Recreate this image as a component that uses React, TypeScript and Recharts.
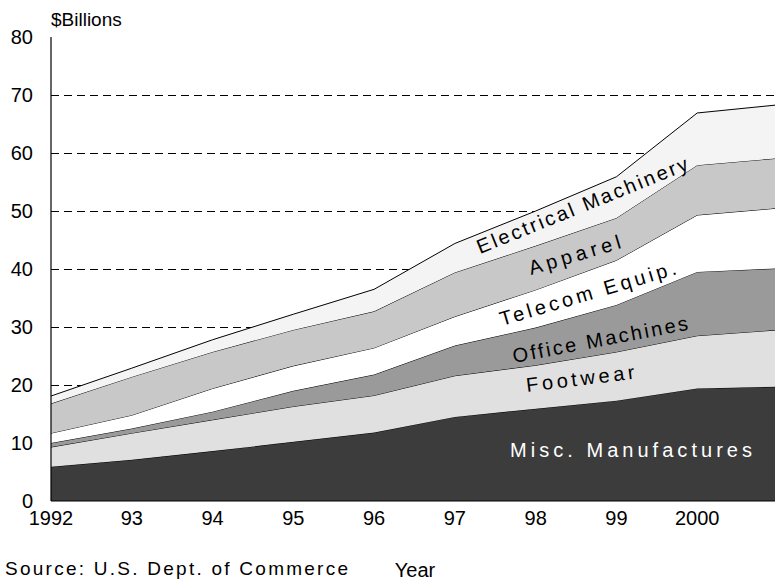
import { AreaChart, Area, XAxis, YAxis, CartesianGrid } from 'recharts'

// Values in $ billions (last point is the right edge of the plot)
const years = [1992, 1993, 1994, 1995, 1996, 1997, 1998, 1999, 2000, 2001]
const misc = [5.9, 7.1, 8.6, 10.2, 11.8, 14.5, 15.9, 17.3, 19.4, 19.7]
const footwear = [3.4, 4.6, 5.4, 6.1, 6.4, 7.1, 7.5, 8.4, 9.1, 9.8]
const office = [0.7, 0.8, 1.4, 2.7, 3.6, 5.2, 6.5, 8.1, 11.0, 10.6]
const telecom = [1.7, 2.3, 4.0, 4.3, 4.6, 5.0, 6.5, 7.7, 9.8, 10.4]
const apparel = [5.1, 6.6, 6.3, 6.2, 6.3, 7.6, 7.6, 7.3, 8.6, 8.6]
const electrical = [1.3, 1.5, 2.1, 2.7, 3.8, 5.0, 6.0, 7.1, 9.0, 9.2]

const xTicks = [1992, 1993, 1994, 1995, 1996, 1997, 1998, 1999, 2000]
const yTicks = [0, 10, 20, 30, 40, 50, 60, 70, 80]
const gridValues = [10, 20, 30, 40, 50, 60, 70]

const data = years.map((year, i) => ({
  year,
  misc: misc[i],
  footwear: footwear[i],
  office: office[i],
  telecom: telecom[i],
  apparel: apparel[i],
  electrical: electrical[i],
}))

// bottom to top
const series = [
  { key: 'misc', fill: '#3c3c3c' },
  { key: 'footwear', fill: '#e0e0e0' },
  { key: 'office', fill: '#9a9a9a' },
  { key: 'telecom', fill: '#ffffff' },
  { key: 'apparel', fill: '#c8c8c8' },
  { key: 'electrical', fill: '#f4f4f4' },
]

const font = '"Liberation Sans", Arial, sans-serif'

const formatYear = (v: number) => (v === 1992 || v === 2000 ? String(v) : String(v).slice(2))

// in-chart annotations: [text, x, y, angle, length, colour]
const labels: [string, number, number, number, number, string][] = [
  ['Electrical Machinery', 480, 254, -22, 226, '#000'],
  ['Apparel', 531, 275, -16.5, 95, '#000'],
  ['Telecom Equip.', 502, 326, -16.5, 183, '#000'],
  ['Office Machines', 514, 363, -10.8, 178, '#000'],
  ['Footwear', 527, 392, -7, 109, '#000'],
  ['Misc. Manufactures', 510, 457, 0, 242, '#fff'],
]

export default function App() {
  return (
    <div style={{ position: 'absolute', left: 0, top: 0, width: 775, height: 582, overflow: 'hidden', background: '#fff' }}>
      <AreaChart width={778} height={582} data={data} margin={{ top: 37, right: 0, bottom: 51, left: 0 }}>
        <CartesianGrid vertical={false} horizontalValues={gridValues} stroke="#000" strokeDasharray="8 5" shapeRendering="crispEdges" />
        {series.map(s => (
          <Area
            key={s.key}
            type="linear"
            dataKey={s.key}
            stackId="1"
            stroke="#000"
            strokeWidth={1}
            fill={s.fill}
            fillOpacity={1}
            isAnimationActive={false}
          />
        ))}
        <XAxis
          dataKey="year"
          type="number"
          domain={[1992, 2001]}
          ticks={xTicks}
          tickFormatter={formatYear}
          tickLine={false}
          axisLine={{ stroke: '#000', strokeWidth: 1.2 }}
          tick={{ fill: '#000', fontSize: 20, fontFamily: font }}
          tickMargin={4}
          height={30}
          allowDataOverflow
        />
        <XAxis
          xAxisId="top"
          orientation="top"
          dataKey="year"
          type="number"
          domain={[1992, 2001]}
          tick={false}
          tickLine={false}
          axisLine={{ stroke: '#000', strokeWidth: 1.2 }}
          height={0}
        />
        <YAxis
          type="number"
          domain={[0, 80]}
          ticks={yTicks}
          tickLine={false}
          axisLine={{ stroke: '#000', strokeWidth: 1.2 }}
          tick={{ fill: '#000', fontSize: 20, fontFamily: font }}
          tickMargin={12}
          width={51}
        />
      </AreaChart>
      <svg width={775} height={582} style={{ position: 'absolute', left: 0, top: 0, pointerEvents: 'none' }}>
        <text x={51} y={26} fontSize={19} fontFamily={font} fill="#000">$Billions</text>
        {labels.map(([text, x, y, angle, len, color]) => (
          <text
            key={text}
            x={x}
            y={y}
            fontSize={20}
            fontFamily={font}
            fill={color}
            textLength={len}
            lengthAdjust="spacing"
            transform={`rotate(${angle} ${x} ${y})`}
          >
            {text}
          </text>
        ))}
        <text x={415} y={577} fontSize={20} fontFamily={font} fill="#000" textAnchor="middle">Year</text>
        <text x={5} y={575} fontSize={19} fontFamily={font} fill="#000" textLength={343} lengthAdjust="spacing">
          Source: U.S. Dept. of Commerce
        </text>
      </svg>
    </div>
  )
}
